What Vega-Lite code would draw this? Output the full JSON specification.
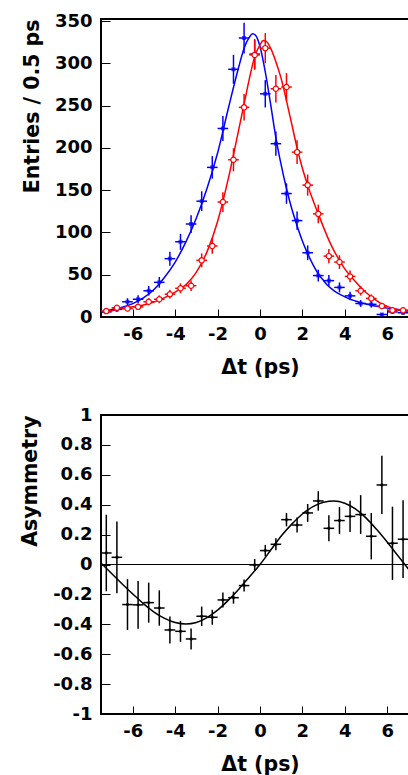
{
  "$schema": "https://vega.github.io/schema/vega-lite/v6.json",
  "background": "white",
  "padding": {"left": 19, "top": 11, "right": 0, "bottom": 0},
  "spacing": 98,
  "bounds": "flush",
  "config": {
    "view": {"stroke": "black", "strokeWidth": 2},
    "font": "DejaVu Sans",
    "axis": {
      "domain": false, "ticks": true,
      "tickColor": "black", "tickWidth": 1,
      "labelFont": "DejaVu Sans", "labelFontWeight": "bold", "labelFontSize": 18, "labelColor": "black",
      "titleFont": "DejaVu Sans", "titleFontWeight": "bold", "titleFontSize": 20.5, "titleColor": "black",
      "grid": false, "labelOverlap": false, "labelFlush": false, "labelBound": false
    }
  },
  "datasets": {
    "curves": [
      {"s":"B","t":-7.5,"v":6.5},{"s":"B","t":-7.0,"v":8.7},{"s":"B","t":-6.5,"v":11.5},{"s":"B","t":-6.0,"v":15.8},{"s":"B","t":-5.5,"v":22.5},{"s":"B","t":-5.0,"v":32.5},{"s":"B","t":-4.5,"v":47},{"s":"B","t":-4.0,"v":65},{"s":"B","t":-3.5,"v":88.5},{"s":"B","t":-3.0,"v":117},{"s":"B","t":-2.5,"v":152},{"s":"B","t":-2.0,"v":194},{"s":"B","t":-1.5,"v":246},{"s":"B","t":-1.0,"v":296},{"s":"B","t":-0.75,"v":318},{"s":"B","t":-0.5,"v":331},{"s":"B","t":-0.35,"v":335},{"s":"B","t":-0.2,"v":333},{"s":"B","t":0.0,"v":320},{"s":"B","t":0.25,"v":290},{"s":"B","t":0.5,"v":252},{"s":"B","t":0.75,"v":212},{"s":"B","t":1.0,"v":180},{"s":"B","t":1.25,"v":152},{"s":"B","t":1.5,"v":128},{"s":"B","t":1.75,"v":108},{"s":"B","t":2.0,"v":90},{"s":"B","t":2.25,"v":75},{"s":"B","t":2.5,"v":62},{"s":"B","t":2.75,"v":51},{"s":"B","t":3.0,"v":43},{"s":"B","t":3.25,"v":36},{"s":"B","t":3.5,"v":31},{"s":"B","t":3.75,"v":27},{"s":"B","t":4.0,"v":24},{"s":"B","t":4.25,"v":21},{"s":"B","t":4.5,"v":19},{"s":"B","t":4.75,"v":17},{"s":"B","t":5.0,"v":15.5},{"s":"B","t":5.25,"v":14},{"s":"B","t":5.5,"v":12.7},{"s":"B","t":5.75,"v":11.5},{"s":"B","t":6.0,"v":10.5},{"s":"B","t":6.25,"v":9.7},{"s":"B","t":6.5,"v":8.9},{"s":"B","t":6.75,"v":8.2},{"s":"B","t":7.0,"v":7.5},{"s":"B","t":7.1,"v":7.3},
      {"s":"R","t":-7.5,"v":5.5},{"s":"R","t":-7.0,"v":7.5},{"s":"R","t":-6.5,"v":9.8},{"s":"R","t":-6.0,"v":12},{"s":"R","t":-5.5,"v":14.3},{"s":"R","t":-5.0,"v":17.8},{"s":"R","t":-4.5,"v":23},{"s":"R","t":-4.0,"v":29.5},{"s":"R","t":-3.5,"v":38},{"s":"R","t":-3.0,"v":53},{"s":"R","t":-2.5,"v":77},{"s":"R","t":-2.0,"v":113},{"s":"R","t":-1.5,"v":163},{"s":"R","t":-1.0,"v":222},{"s":"R","t":-0.75,"v":252},{"s":"R","t":-0.5,"v":282},{"s":"R","t":-0.25,"v":308},{"s":"R","t":0.0,"v":322},{"s":"R","t":0.15,"v":327},{"s":"R","t":0.3,"v":326},{"s":"R","t":0.5,"v":318},{"s":"R","t":0.75,"v":302},{"s":"R","t":1.0,"v":282},{"s":"R","t":1.25,"v":256},{"s":"R","t":1.5,"v":228},{"s":"R","t":1.75,"v":200},{"s":"R","t":2.0,"v":176},{"s":"R","t":2.25,"v":156},{"s":"R","t":2.5,"v":138},{"s":"R","t":2.75,"v":122},{"s":"R","t":3.0,"v":106},{"s":"R","t":3.25,"v":91},{"s":"R","t":3.5,"v":78},{"s":"R","t":3.75,"v":67},{"s":"R","t":4.0,"v":57},{"s":"R","t":4.25,"v":49},{"s":"R","t":4.5,"v":42},{"s":"R","t":4.75,"v":35},{"s":"R","t":5.0,"v":29},{"s":"R","t":5.25,"v":24},{"s":"R","t":5.5,"v":19.5},{"s":"R","t":5.75,"v":15.5},{"s":"R","t":6.0,"v":12.5},{"s":"R","t":6.25,"v":10.2},{"s":"R","t":6.5,"v":8.7},{"s":"R","t":6.75,"v":7.5},{"s":"R","t":7.0,"v":6.5},{"s":"R","t":7.1,"v":6.3}
    ],
    "pts": [
      {"s":"B","t":-7.25,"lo":-7.5,"hi":-7.0,"n":6,"e":2.4},{"s":"B","t":-6.75,"lo":-7.0,"hi":-6.5,"n":9,"e":3},{"s":"B","t":-6.25,"lo":-6.5,"hi":-6.0,"n":18,"e":4.2},{"s":"B","t":-5.75,"lo":-6.0,"hi":-5.5,"n":21,"e":4.6},{"s":"B","t":-5.25,"lo":-5.5,"hi":-5.0,"n":31,"e":5.6},{"s":"B","t":-4.75,"lo":-5.0,"hi":-4.5,"n":41,"e":6.4},{"s":"B","t":-4.25,"lo":-4.5,"hi":-4.0,"n":69,"e":8.3},{"s":"B","t":-3.75,"lo":-4.0,"hi":-3.5,"n":89,"e":9.4},{"s":"B","t":-3.25,"lo":-3.5,"hi":-3.0,"n":110,"e":10.5},{"s":"B","t":-2.75,"lo":-3.0,"hi":-2.5,"n":137,"e":11.7},{"s":"B","t":-2.25,"lo":-2.5,"hi":-2.0,"n":177,"e":13.3},{"s":"B","t":-1.75,"lo":-2.0,"hi":-1.5,"n":223,"e":14.9},{"s":"B","t":-1.25,"lo":-1.5,"hi":-1.0,"n":293,"e":17.1},{"s":"B","t":-0.75,"lo":-1.0,"hi":-0.5,"n":330,"e":18.2},{"s":"B","t":-0.25,"lo":-0.5,"hi":0.0,"n":311,"e":17.6},{"s":"B","t":0.25,"lo":0.0,"hi":0.5,"n":264,"e":16.2},{"s":"B","t":0.75,"lo":0.5,"hi":1.0,"n":205,"e":14.3},{"s":"B","t":1.25,"lo":1.0,"hi":1.5,"n":146,"e":12.1},{"s":"B","t":1.75,"lo":1.5,"hi":2.0,"n":114,"e":10.7},{"s":"B","t":2.25,"lo":2.0,"hi":2.5,"n":76,"e":8.7},{"s":"B","t":2.75,"lo":2.5,"hi":3.0,"n":49,"e":7},{"s":"B","t":3.25,"lo":3.0,"hi":3.5,"n":43,"e":6.6},{"s":"B","t":3.75,"lo":3.5,"hi":4.0,"n":35,"e":5.9},{"s":"B","t":4.25,"lo":4.0,"hi":4.5,"n":25,"e":5},{"s":"B","t":4.75,"lo":4.5,"hi":5.0,"n":16,"e":4},{"s":"B","t":5.25,"lo":5.0,"hi":5.5,"n":15,"e":3.9},{"s":"B","t":5.75,"lo":5.5,"hi":6.0,"n":3,"e":1.7},{"s":"B","t":6.25,"lo":6.0,"hi":6.5,"n":6,"e":2.4},{"s":"B","t":6.75,"lo":6.5,"hi":7.0,"n":5,"e":2.2},
      {"s":"R","t":-7.25,"lo":-7.5,"hi":-7.0,"n":7,"e":2.6},{"s":"R","t":-6.75,"lo":-7.0,"hi":-6.5,"n":11,"e":3.3},{"s":"R","t":-6.25,"lo":-6.5,"hi":-6.0,"n":10,"e":3.2},{"s":"R","t":-5.75,"lo":-6.0,"hi":-5.5,"n":12,"e":3.5},{"s":"R","t":-5.25,"lo":-5.5,"hi":-5.0,"n":18,"e":4.2},{"s":"R","t":-4.75,"lo":-5.0,"hi":-4.5,"n":21,"e":4.6},{"s":"R","t":-4.25,"lo":-4.5,"hi":-4.0,"n":27,"e":5.2},{"s":"R","t":-3.75,"lo":-4.0,"hi":-3.5,"n":34,"e":5.8},{"s":"R","t":-3.25,"lo":-3.5,"hi":-3.0,"n":37,"e":6.1},{"s":"R","t":-2.75,"lo":-3.0,"hi":-2.5,"n":67,"e":8.2},{"s":"R","t":-2.25,"lo":-2.5,"hi":-2.0,"n":84,"e":9.2},{"s":"R","t":-1.75,"lo":-2.0,"hi":-1.5,"n":136,"e":11.7},{"s":"R","t":-1.25,"lo":-1.5,"hi":-1.0,"n":186,"e":13.6},{"s":"R","t":-0.75,"lo":-1.0,"hi":-0.5,"n":248,"e":15.7},{"s":"R","t":-0.25,"lo":-0.5,"hi":0.0,"n":310,"e":17.6},{"s":"R","t":0.25,"lo":0.0,"hi":0.5,"n":318,"e":17.8},{"s":"R","t":0.75,"lo":0.5,"hi":1.0,"n":270,"e":16.4},{"s":"R","t":1.25,"lo":1.0,"hi":1.5,"n":272,"e":16.5},{"s":"R","t":1.75,"lo":1.5,"hi":2.0,"n":195,"e":14},{"s":"R","t":2.25,"lo":2.0,"hi":2.5,"n":156,"e":12.5},{"s":"R","t":2.75,"lo":2.5,"hi":3.0,"n":122,"e":11},{"s":"R","t":3.25,"lo":3.0,"hi":3.5,"n":72,"e":8.5},{"s":"R","t":3.75,"lo":3.5,"hi":4.0,"n":65,"e":8.1},{"s":"R","t":4.25,"lo":4.0,"hi":4.5,"n":48,"e":6.9},{"s":"R","t":4.75,"lo":4.5,"hi":5.0,"n":31,"e":5.6},{"s":"R","t":5.25,"lo":5.0,"hi":5.5,"n":22,"e":4.7},{"s":"R","t":5.75,"lo":5.5,"hi":6.0,"n":13,"e":3.6},{"s":"R","t":6.25,"lo":6.0,"hi":6.5,"n":8,"e":2.8},{"s":"R","t":6.75,"lo":6.5,"hi":7.0,"n":8,"e":2.8}
    ],
    "asym": [
      {"t":-7.25,"lo":-7.5,"hi":-7.0,"a":0.077,"e":0.256},{"t":-6.75,"lo":-7.0,"hi":-6.5,"a":0.048,"e":0.24},{"t":-6.25,"lo":-6.5,"hi":-6.0,"a":-0.268,"e":0.17},{"t":-5.75,"lo":-6.0,"hi":-5.5,"a":-0.27,"e":0.16},{"t":-5.25,"lo":-5.5,"hi":-5.0,"a":-0.255,"e":0.134},{"t":-4.75,"lo":-5.0,"hi":-4.5,"a":-0.291,"e":0.118},{"t":-4.25,"lo":-4.5,"hi":-4.0,"a":-0.438,"e":0.09},{"t":-3.75,"lo":-4.0,"hi":-3.5,"a":-0.447,"e":0.07},{"t":-3.25,"lo":-3.5,"hi":-3.0,"a":-0.498,"e":0.07},{"t":-2.75,"lo":-3.0,"hi":-2.5,"a":-0.346,"e":0.065},{"t":-2.25,"lo":-2.5,"hi":-2.0,"a":-0.353,"e":0.05},{"t":-1.75,"lo":-2.0,"hi":-1.5,"a":-0.237,"e":0.05},{"t":-1.25,"lo":-1.5,"hi":-1.0,"a":-0.222,"e":0.04},{"t":-0.75,"lo":-1.0,"hi":-0.5,"a":-0.141,"e":0.04},{"t":-0.25,"lo":-0.5,"hi":0.0,"a":-0.003,"e":0.04},{"t":0.25,"lo":0.0,"hi":0.5,"a":0.093,"e":0.038},{"t":0.75,"lo":0.5,"hi":1.0,"a":0.135,"e":0.04},{"t":1.25,"lo":1.0,"hi":1.5,"a":0.3,"e":0.045},{"t":1.75,"lo":1.5,"hi":2.0,"a":0.264,"e":0.05},{"t":2.25,"lo":2.0,"hi":2.5,"a":0.345,"e":0.06},{"t":2.75,"lo":2.5,"hi":3.0,"a":0.425,"e":0.065},{"t":3.25,"lo":3.0,"hi":3.5,"a":0.242,"e":0.087},{"t":3.75,"lo":3.5,"hi":4.0,"a":0.294,"e":0.09},{"t":4.25,"lo":4.0,"hi":4.5,"a":0.322,"e":0.105},{"t":4.75,"lo":4.5,"hi":5.0,"a":0.334,"e":0.13},{"t":5.25,"lo":5.0,"hi":5.5,"a":0.189,"e":0.155},{"t":5.75,"lo":5.5,"hi":6.0,"a":0.532,"e":0.195},{"t":6.25,"lo":6.0,"hi":6.5,"a":0.142,"e":0.245},{"t":6.75,"lo":6.5,"hi":7.0,"a":0.169,"e":0.26}
    ],
    "acurve": [
      {"t":-7.5,"a":0.01},{"t":-7.0,"a":-0.06},{"t":-6.5,"a":-0.13},{"t":-6.0,"a":-0.197},{"t":-5.5,"a":-0.262},{"t":-5.0,"a":-0.318},{"t":-4.5,"a":-0.36},{"t":-4.0,"a":-0.388},{"t":-3.5,"a":-0.398},{"t":-3.0,"a":-0.388},{"t":-2.5,"a":-0.355},{"t":-2.0,"a":-0.305},{"t":-1.5,"a":-0.24},{"t":-1.0,"a":-0.165},{"t":-0.5,"a":-0.083},{"t":0.0,"a":0.0},{"t":0.5,"a":0.095},{"t":1.0,"a":0.19},{"t":1.5,"a":0.27},{"t":2.0,"a":0.338},{"t":2.5,"a":0.387},{"t":3.0,"a":0.417},{"t":3.5,"a":0.425},{"t":4.0,"a":0.41},{"t":4.5,"a":0.372},{"t":5.0,"a":0.312},{"t":5.5,"a":0.235},{"t":6.0,"a":0.15},{"t":6.5,"a":0.06},{"t":7.0,"a":-0.03},{"t":7.1,"a":-0.048}
    ],
    "one": [{"z": 0}]
  },
  "vconcat": [
    {
      "width": 308, "height": 298,
      "resolve": {"axis": {"x": "independent", "y": "independent"}},
      "layer": [
        {
          "data": {"name": "curves"},
          "mark": {"type": "line", "interpolate": "monotone", "strokeWidth": 1.5, "clip": true},
          "encoding": {
            "x": {"field": "t", "type": "quantitative", "scale": {"domain": [-7.5, 7.03], "nice": false, "zero": false},
                  "axis": {"orient": "bottom", "title": "Δt (ps)", "titleX": 159, "titlePadding": 14,
                           "values": [-6, -4, -2, 0, 2, 4, 6], "labelExpr": "'' + datum.value",
                           "tickSize": -8, "labelPadding": 16}},
            "y": {"field": "v", "type": "quantitative", "scale": {"domain": [0, 352.5], "nice": false},
                  "axis": {"orient": "left", "title": "Entries / 0.5 ps", "titleAnchor": "end", "titlePadding": 12,
                           "values": [0, 50, 100, 150, 200, 250, 300, 350], "labelExpr": "'' + datum.value",
                           "tickSize": -9, "labelPadding": 18}},
            "color": {"field": "s", "type": "nominal", "scale": {"domain": ["B", "R"], "range": ["#0000ff", "#ff0000"]}, "legend": null}
          }
        },
        {
          "data": {"name": "one"},
          "mark": {"type": "rule", "strokeWidth": 2, "color": "black"},
          "encoding": {"x": {"datum": -7.5, "type": "quantitative", "axis": null}}
        },
        {
          "data": {"name": "one"},
          "mark": {"type": "rule", "strokeWidth": 2, "color": "black"},
          "encoding": {"y": {"datum": 0, "type": "quantitative", "axis": null}}
        },
        {
          "data": {"name": "pts"},
          "mark": {"type": "errorbar", "thickness": 1.5, "clip": true},
          "encoding": {
            "x": {"field": "t", "type": "quantitative", "axis": null},
            "y": {"field": "n", "type": "quantitative", "axis": null},
            "yError": {"field": "e"},
            "color": {"field": "s", "type": "nominal", "legend": null}
          }
        },
        {
          "data": {"name": "pts"},
          "mark": {"type": "rule", "strokeWidth": 1.5, "clip": true},
          "encoding": {
            "x": {"field": "lo", "type": "quantitative", "axis": null},
            "x2": {"field": "hi"},
            "y": {"field": "n", "type": "quantitative", "axis": null},
            "color": {"field": "s", "type": "nominal", "legend": null}
          }
        },
        {
          "data": {"name": "pts"},
          "transform": [{"filter": "datum.s == 'B'"}],
          "mark": {"type": "point", "shape": "square", "filled": true, "size": 16, "color": "#0000ff", "clip": true},
          "encoding": {
            "x": {"field": "t", "type": "quantitative", "axis": null},
            "y": {"field": "n", "type": "quantitative", "axis": null}
          }
        },
        {
          "data": {"name": "pts"},
          "transform": [{"filter": "datum.s == 'R'"}],
          "mark": {"type": "point", "shape": "circle", "filled": false, "fill": "white", "fillOpacity": 1, "stroke": "#ff0000", "strokeWidth": 1.2, "size": 28, "clip": true},
          "encoding": {
            "x": {"field": "t", "type": "quantitative", "axis": null},
            "y": {"field": "n", "type": "quantitative", "axis": null}
          }
        }
      ]
    },
    {
      "width": 308, "height": 299,
      "resolve": {"axis": {"x": "independent", "y": "independent"}},
      "layer": [
        {
          "data": {"name": "acurve"},
          "mark": {"type": "line", "interpolate": "monotone", "strokeWidth": 1.5, "color": "black", "clip": true},
          "encoding": {
            "x": {"field": "t", "type": "quantitative", "scale": {"domain": [-7.5, 7.03], "nice": false, "zero": false},
                  "axis": {"orient": "bottom", "title": "Δt (ps)", "titleX": 159, "titlePadding": 14,
                           "values": [-6, -4, -2, 0, 2, 4, 6], "labelExpr": "'' + datum.value",
                           "tickSize": -8, "labelPadding": 16}},
            "y": {"field": "a", "type": "quantitative", "scale": {"domain": [-1, 1], "nice": false},
                  "axis": {"orient": "left", "title": "Asymmetry", "titleAnchor": "end", "titlePadding": 12,
                           "values": [-1, -0.8, -0.6, -0.4, -0.2, 0, 0.2, 0.4, 0.6, 0.8, 1], "labelExpr": "'' + datum.value",
                           "tickSize": -9, "labelPadding": 18}}
          }
        },
        {
          "data": {"name": "one"},
          "mark": {"type": "rule", "strokeWidth": 2, "color": "black"},
          "encoding": {"x": {"datum": -7.5, "type": "quantitative", "axis": null}}
        },
        {
          "data": {"name": "one"},
          "mark": {"type": "rule", "strokeWidth": 2, "color": "black"},
          "encoding": {"y": {"datum": -1, "type": "quantitative", "axis": null}}
        },
        {
          "data": {"name": "one"},
          "mark": {"type": "rule", "strokeWidth": 1.2, "color": "black"},
          "encoding": {"y": {"datum": 0, "type": "quantitative", "axis": null}}
        },
        {
          "data": {"name": "asym"},
          "mark": {"type": "errorbar", "thickness": 1.5, "color": "black", "clip": true},
          "encoding": {
            "x": {"field": "t", "type": "quantitative", "axis": null},
            "y": {"field": "a", "type": "quantitative", "axis": null},
            "yError": {"field": "e"}
          }
        },
        {
          "data": {"name": "asym"},
          "mark": {"type": "rule", "strokeWidth": 1.5, "color": "black", "clip": true},
          "encoding": {
            "x": {"field": "lo", "type": "quantitative", "axis": null},
            "x2": {"field": "hi"},
            "y": {"field": "a", "type": "quantitative", "axis": null}
          }
        },
        {
          "data": {"name": "asym"},
          "mark": {"type": "point", "shape": "circle", "filled": true, "size": 12, "color": "black", "clip": true},
          "encoding": {
            "x": {"field": "t", "type": "quantitative", "axis": null},
            "y": {"field": "a", "type": "quantitative", "axis": null}
          }
        }
      ]
    }
  ]
}
